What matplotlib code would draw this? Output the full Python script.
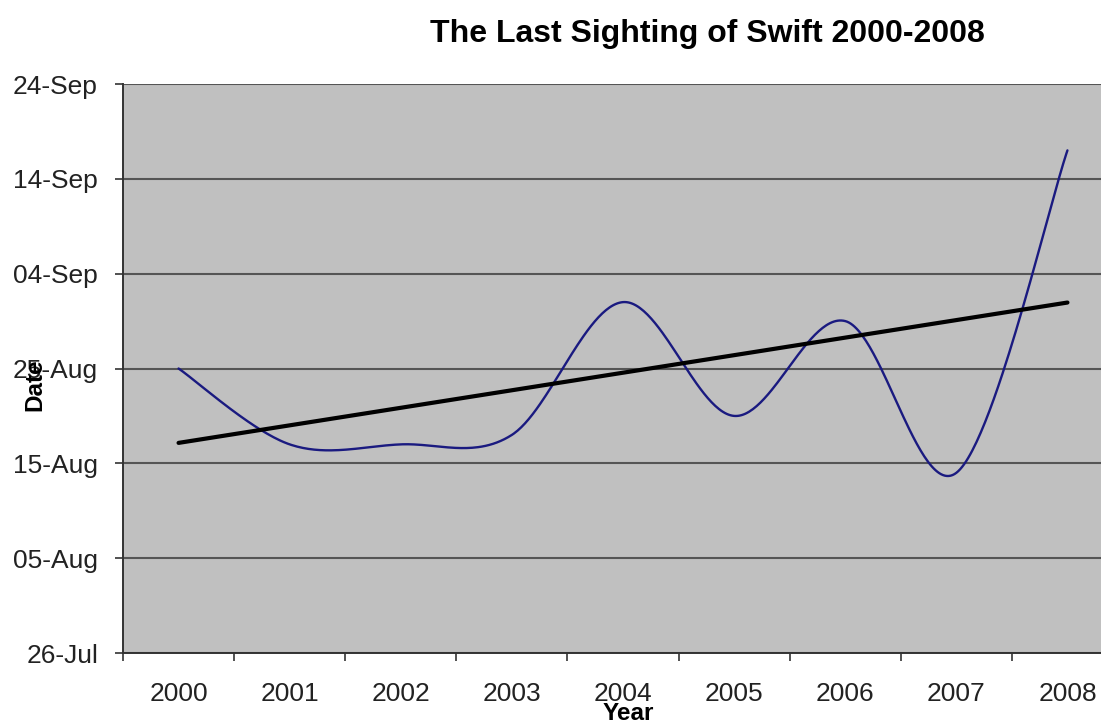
import numpy as np
import pandas as pd
import matplotlib
matplotlib.use("Agg")
import matplotlib.pyplot as plt
import matplotlib.dates as mdates

# ---- data ----
years = ["2000", "2001", "2002", "2003", "2004", "2005", "2006", "2007", "2008"]
last_sighting = ["25-Aug", "17-Aug", "17-Aug", "18-Aug", "01-Sep",
                 "20-Aug", "30-Aug", "14-Aug", "17-Sep"]
ytick_labels = ["26-Jul", "05-Aug", "15-Aug", "25-Aug", "04-Sep", "14-Sep", "24-Sep"]
title = "The Last Sighting of Swift 2000-2008"

REF_YEAR = "2000"
def to_num(s):
    return mdates.date2num(pd.to_datetime(s + "-" + REF_YEAR, format="%d-%b-%Y"))

yv = np.array([to_num(s) for s in last_sighting])
xv = np.arange(len(years), dtype=float)
yt = [to_num(s) for s in ytick_labels]

# Excel-like smoothed line (Catmull-Rom Bezier through the points)
def smooth(x, y, n=60):
    P = np.column_stack([x, y])
    Pe = np.vstack([P[0], P, P[-1]])
    out = []
    for i in range(len(P) - 1):
        p0, p1, p2, p3 = Pe[i], Pe[i + 1], Pe[i + 2], Pe[i + 3]
        b1 = p1 + (p2 - p0) / 6.0
        b2 = p2 - (p3 - p1) / 6.0
        t = np.linspace(0, 1, n)[:, None]
        seg = ((1 - t) ** 3) * p1 + 3 * ((1 - t) ** 2) * t * b1 + 3 * (1 - t) * t ** 2 * b2 + t ** 3 * p2
        out.append(seg if i == 0 else seg[1:])
    s = np.vstack(out)
    return s[:, 0], s[:, 1]

sx, sy = smooth(xv, yv)
coef = np.polyfit(xv, yv, 1)
trend = np.polyval(coef, xv[[0, -1]])

plt.rcParams['font.family'] = ['Liberation Sans', 'DejaVu Sans']
W, H = 1101, 722
fig = plt.figure(figsize=(W / 100, H / 100), dpi=100)
fig.patch.set_facecolor("white")
ax = fig.add_axes([123 / W, (H - 653) / H, 1000 / W, (653 - 84) / H])
ax.set_facecolor("#C0C0C0")

ax.plot(sx, sy, color="#1a1a80", lw=1.7, solid_capstyle="round", zorder=3)
ax.plot(xv[[0, -1]], trend, color="black", lw=3.0, solid_capstyle="round", zorder=4)

ax.set_xlim(-0.5, len(years) - 0.5)
ax.set_ylim(yt[0], yt[-1])
ax.set_yticks(yt)
ax.set_yticklabels(ytick_labels)
ax.set_xticks(xv)
ax.set_xticklabels(years)
ax.set_xticks(np.arange(-0.5, len(years), 1.0), minor=True)
ax.tick_params(axis="x", which="major", length=0, pad=21, labelsize=19, colors="#222222")
ax.tick_params(axis="x", which="minor", length=6, width=1.2, color="#333333")
ax.tick_params(axis="y", length=6, width=1.2, color="#333333", pad=12, labelsize=19, labelcolor="#222222")
ax.grid(axis="y", color="#555555", lw=1.5)
ax.set_axisbelow(True)
for s in ["top", "right"]:
    ax.spines[s].set_visible(False)
for s in ["left", "bottom"]:
    ax.spines[s].set_color("#333333")
    ax.spines[s].set_linewidth(1.4)

fig.text(707 / W, 1 - 42 / H, title, ha="center", va="baseline", fontsize=23, fontweight="bold")
fig.text(35 / W, 1 - 385 / H, "Date", ha="center", va="center", rotation=90, fontsize=17.5, fontweight="bold")
fig.text(628 / W, 1 - 720 / H, "Year", ha="center", va="baseline", fontsize=17.5, fontweight="bold")

fig.savefig("out.png", dpi=100)
